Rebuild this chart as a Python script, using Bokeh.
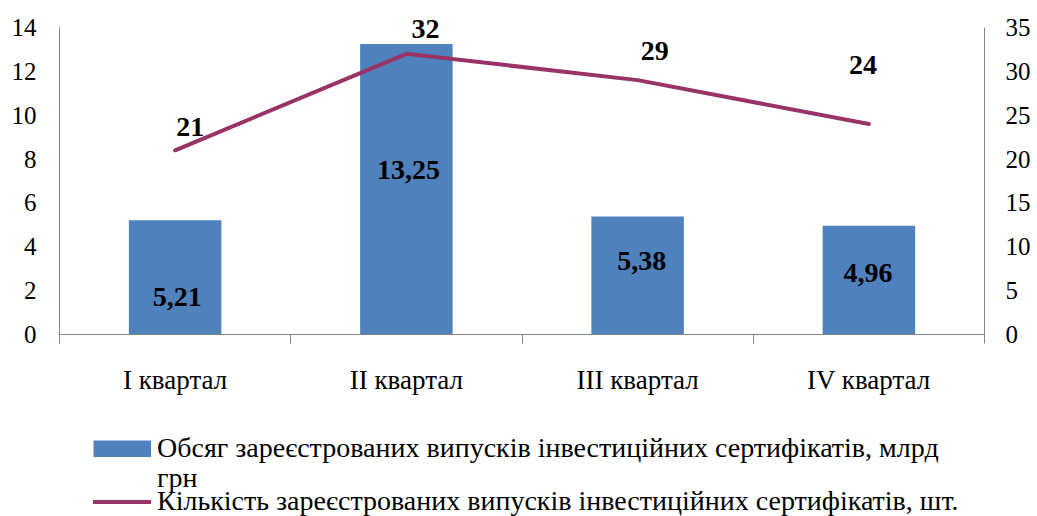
from bokeh.plotting import figure
from bokeh.models import Range1d, LinearAxis, FixedTicker, Legend, LegendItem, ColumnDataSource
from bokeh.layouts import column
from bokeh.embed import file_html
from bokeh.resources import INLINE
from bokeh.core.properties import value

categories = ["I квартал", "II квартал", "III квартал", "IV квартал"]
volume = [5.21, 13.25, 5.38, 4.96]          # млрд грн
count = [21, 32, 29, 24]                     # шт.
volume_labels = ["5,21", "13,25", "5,38", "4,96"]
count_labels = ["21", "32", "29", "24"]
left_ticks = [0, 2, 4, 6, 8, 10, 12, 14]
right_ticks = [0, 5, 10, 15, 20, 25, 30, 35]
name_volume = ["Обсяг зареєстрованих випусків інвестиційних сертифікатів, млрд", "грн"]
name_count = "Кількість зареєстрованих випусків інвестиційних сертифікатів, шт."

# label nudges (pixels) reproducing the hand-placed labels of the original
bar_lbl_dx = [2, 2, 4, -1]
bar_lbl_dy = [20, -19, -15, -7]
line_lbl_dx = [15, 19, 17, -6]
line_lbl_dy = [-23, -25, -29, -59]

FONT = "Liberation Serif"
BAR = "#4F81BD"
LINE = "#993366"
AX = "#868686"

# pixel geometry of the chart frame
W = 1037
LEFT = 59
RIGHT_EDGE = 984
AXIS_TOP = 27      # where the value axes end (pixel row of 14 / 35)
BASE = 334         # pixel row of the zero line
Y_MAX, Y2_MAX = left_ticks[-1], right_ticks[-1]
y_end = Y_MAX * BASE / (BASE - AXIS_TOP)     # headroom above the axes for the labels
y2_end = Y2_MAX * BASE / (BASE - AXIS_TOP)

xs = [i + 0.5 for i in range(len(categories))]
src = ColumnDataSource(dict(
    x=xs, vol=volume, cnt=count, vmid=[v / 2 for v in volume],
    vl=volume_labels, cl=count_labels,
    bdx=bar_lbl_dx, bdy=bar_lbl_dy, ldx=line_lbl_dx, ldy=line_lbl_dy,
))

p = figure(width=W, height=420, output_backend="svg", toolbar_location=None,
           x_range=Range1d(0, len(categories)), y_range=Range1d(0, y_end),
           min_border_left=LEFT, min_border_right=W - RIGHT_EDGE, min_border_top=0,
           min_border_bottom=420 - BASE,
           outline_line_color=None, x_axis_location=None, y_axis_location=None)
p.extra_y_ranges = {"cnt": Range1d(0, y2_end)}
p.xgrid.visible = False
p.ygrid.visible = False

bars = p.vbar(x="x", top="vol", width=0.4, source=src, fill_color=BAR, line_color=None)
line = p.line(x="x", y="cnt", source=src, y_range_name="cnt", line_color=LINE, line_width=4,
              line_join="round", line_cap="round")

p.text(x="x", y="vmid", text="vl", source=src, x_offset="bdx", y_offset="bdy",
       text_font=value(FONT), text_font_style="bold", text_font_size="28px",
       text_align="center", text_baseline="middle", text_color="black")
p.text(x="x", y="cnt", text="cl", source=src, y_range_name="cnt", x_offset="ldx", y_offset="ldy",
       text_font=value(FONT), text_font_style="bold", text_font_size="28px",
       text_align="center", text_baseline="middle", text_color="black")

def style_axis(ax, standoff):
    ax.axis_line_color = AX
    ax.axis_line_width = 1
    ax.major_tick_line_color = None
    ax.major_tick_out = 0
    ax.major_tick_in = 0
    ax.minor_tick_line_color = None
    ax.minor_tick_out = 0
    ax.minor_tick_in = 0
    ax.major_label_text_font = FONT
    ax.major_label_text_font_size = "25px"
    ax.major_label_text_color = "black"
    ax.major_label_standoff = standoff

yl = LinearAxis(ticker=FixedTicker(ticks=left_ticks), bounds=(0, Y_MAX))
style_axis(yl, 23)
p.add_layout(yl, "left")

yr = LinearAxis(y_range_name="cnt", ticker=FixedTicker(ticks=right_ticks), bounds=(0, Y2_MAX))
style_axis(yr, 21)
p.add_layout(yr, "right")

xa = LinearAxis(ticker=FixedTicker(ticks=xs, minor_ticks=list(range(len(categories) + 1))))
style_axis(xa, 21)
xa.minor_tick_line_color = AX
xa.minor_tick_out = 9
xa.minor_tick_in = 0
xa.major_label_overrides = {x: c for x, c in zip(xs, categories)}
xa.major_label_text_font_size = "27px"
p.add_layout(xa, "below")

# legend strip below the chart (its frame is aligned with the chart frame by the column)
lg = figure(width=W, height=96, output_backend="svg", toolbar_location=None,
            x_range=Range1d(0, 1), y_range=Range1d(0, 1),
            min_border=0, outline_line_color=None, x_axis_location=None, y_axis_location=None)
lg.xgrid.visible = False
lg.ygrid.visible = False
# legend proxies, kept outside the visible range
pb = lg.line(x=[-5, -4], y=[-5, -5], line_color=BAR, line_width=17, line_cap="butt")
pblank = lg.line(x=[-5, -4], y=[-5, -5], line_alpha=0)
pl = lg.line(x=[-5, -4], y=[-5, -5], line_color=LINE, line_width=4, line_cap="round")

# one legend per text row: (label, proxy, bottom offset in px above the strip's bottom)
rows = [(name_volume[0], pb, 52), (name_volume[1], pblank, 22), (name_count, pl, -1)]
for label, proxy, y0 in rows:
    lg.add_layout(Legend(items=[LegendItem(label=label, renderers=[proxy])],
                         location=(93 - LEFT, y0), orientation="vertical",
                         label_text_font=FONT, label_text_font_size="28px",
                         label_text_color="black",
                         glyph_width=58, glyph_height=17, label_standoff=6,
                         padding=0, margin=0, border_line_color=None,
                         background_fill_alpha=0), "center")

open("out.html", "w").write(file_html(column(p, lg, spacing=0), INLINE))
